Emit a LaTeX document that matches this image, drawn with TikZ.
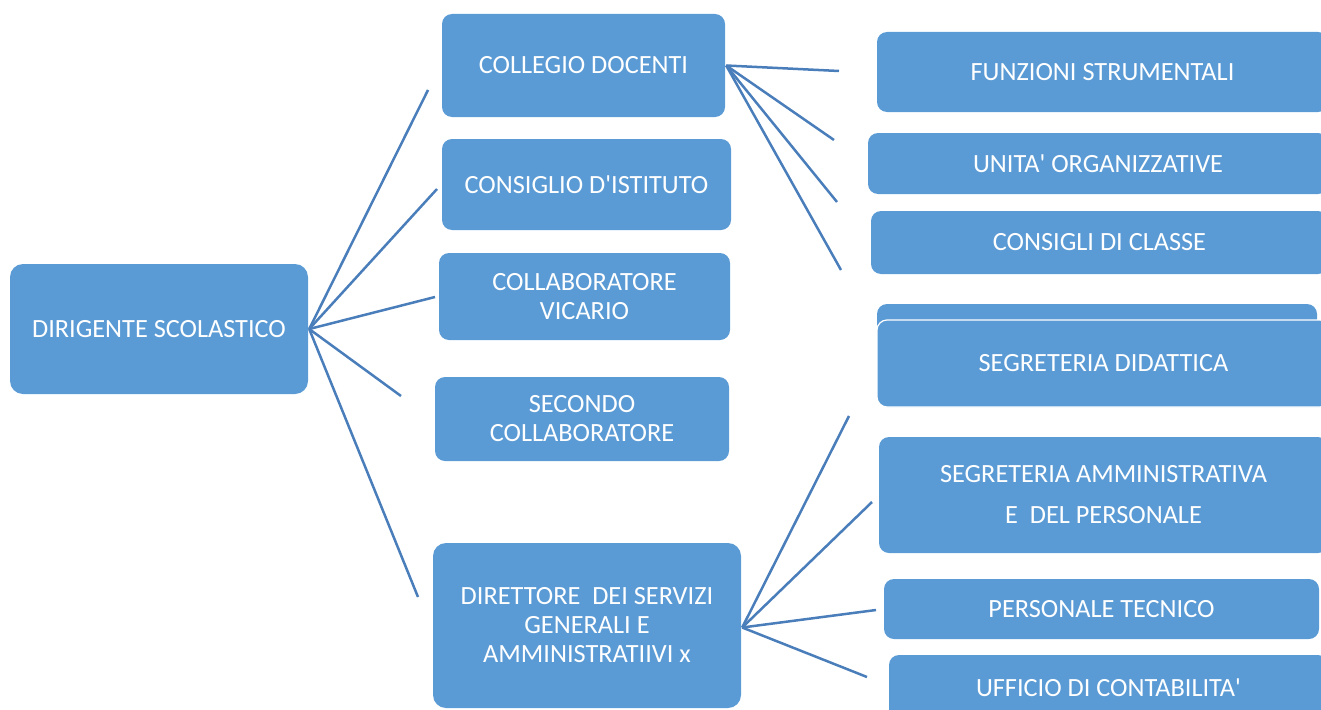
\documentclass[tikz,border=0pt]{standalone}
\usepackage{fontspec}
\setmainfont{Carlito}[Ligatures=TeXOff]
\definecolor{boxblue}{HTML}{5B9BD5}
\definecolor{linkblue}{HTML}{4A7EBB}
\tikzset{
  orgbox/.style={fill=boxblue, rounded corners=10pt, text=white, align=center,
    inner sep=0pt, font=\fontsize{26.3}{29}\selectfont},
  link/.style={draw=linkblue, line width=2.5pt},
}
% place a box by its left, top, right, bottom edges
\newcommand{\orgnode}[7][]{%
  \node[orgbox,#1, minimum width={(#5)-(#3)}, minimum height={(#6)-(#4)}]
    (#2) at ({((#3)+(#5))/2},{((#4)+(#6))/2}) {#7};}
\begin{document}
\begin{tikzpicture}[x=1pt,y=-1pt]
\useasboundingbox (0,0) rectangle (1321,709);
\clip (0,0) rectangle (1321,709);

% left column
\orgnode[rounded corners=13pt]{dir}{10}{264}{308}{394}{DIRIGENTE SCOLASTICO}

% middle column
\orgnode{col}{442}{14}{725}{117}{COLLEGIO DOCENTI}
\orgnode{cons}{442}{139}{731}{230}{CONSIGLIO D'ISTITUTO}
\orgnode{vic}{439}{253}{730}{340}{COLLABORATORE\\VICARIO}
\orgnode{sec}{435}{377}{729}{461}{SECONDO\\COLLABORATORE}
\orgnode[rounded corners=13pt]{dsga}{433}{543}{741}{708}{DIRETTORE\ \ DEI SERVIZI\\GENERALI E\\AMMINISTRATIIVI x}

% right column
\orgnode{fs}{877}{32}{1328}{112}{FUNZIONI STRUMENTALI}
\orgnode{uo}{868}{133}{1328}{194}{UNITA' ORGANIZZATIVE}
\orgnode{cc}{871}{211}{1328}{274}{CONSIGLI DI CLASSE}
\orgnode{blank}{877}{304}{1317}{380}{}
\orgnode[draw=white, line width=1.2pt]{sd}{877}{320}{1330}{407}{SEGRETERIA DIDATTICA}
\orgnode{sa}{879}{437}{1328}{553}{SEGRETERIA AMMINISTRATIVA\\[12pt]E\ \ DEL PERSONALE}
\orgnode{pt}{884}{579}{1319}{639}{PERSONALE TECNICO}
\orgnode{uc}{889}{655}{1328}{720}{UFFICIO DI CONTABILITA'}

% free ends of the connectors
\coordinate (d1) at (428,90);
\coordinate (d2) at (437,189);
\coordinate (d3) at (435,297);
\coordinate (d4) at (401,396);
\coordinate (d5) at (418,597);
\coordinate (c1) at (839,71);
\coordinate (c2) at (834,140);
\coordinate (c3) at (837,202);
\coordinate (c4) at (841,270);
\coordinate (s1) at (849,416);
\coordinate (s2) at (872,502);
\coordinate (s3) at (876,610);
\coordinate (s4) at (867,677);

\foreach \e in {d1,d2,d3,d4,d5} \draw[link] ([xshift=1pt]dir.east) -- (\e);
\foreach \e in {c1,c2,c3,c4} \draw[link] ([xshift=1pt]col.east) -- (\e);
\foreach \e in {s1,s2,s3,s4} \draw[link] ([xshift=1pt,yshift=-2pt]dsga.east) -- (\e);
\end{tikzpicture}
\end{document}
